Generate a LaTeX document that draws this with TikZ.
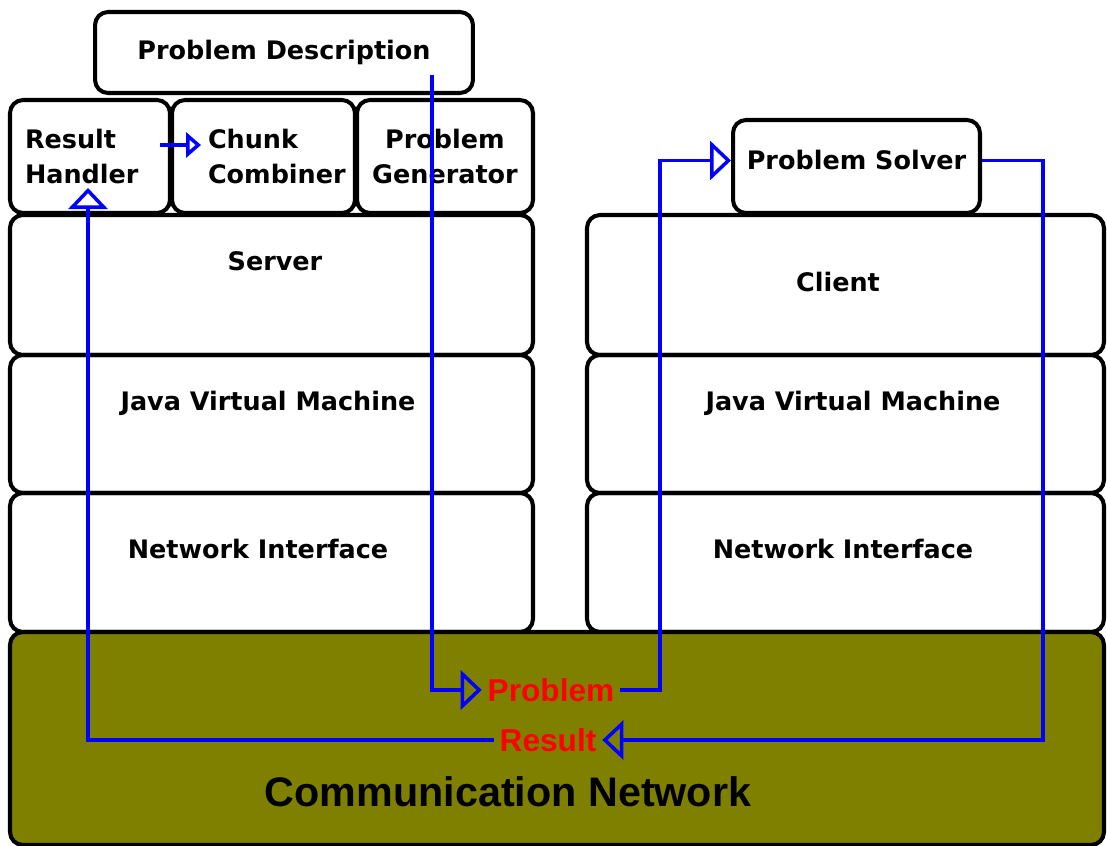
\documentclass[tikz,border=0pt]{standalone}
\usepackage{fontspec}
\setmainfont{DejaVu Sans}
\newfontfamily\arialfont{Liberation Sans}
\usetikzlibrary{calc,arrows.meta}
\definecolor{netolive}{RGB}{128,128,0}

\begin{document}
\begin{tikzpicture}[x=0.02cm,y=-0.02cm,line width=2.3pt,
  layer/.style={draw,rounded corners=0.26cm},
  unit/.style={draw,rounded corners=0.26cm,inner sep=0pt,font=\fontsize{14.5}{20}\selectfont\bfseries},
  txt/.style={font=\fontsize{14.5}{20}\selectfont\bfseries},
  msg/.style={text=red,inner sep=0.08cm,font=\arialfont\fontsize{18}{20}\selectfont\bfseries},
  flow/.style={draw=blue,line width=2pt,-{Triangle[open,length=0.42cm,width=0.78cm]}}]
  \useasboundingbox (0,0) rectangle (1107,846);
  % layer stacks
  \foreach \xa/\xb in {10/533,587/1104} {
    \draw[layer] (\xa,215) rectangle (\xb,355);
    \draw[layer] (\xa,355) rectangle (\xb,493);
    \draw[layer] (\xa,493) rectangle (\xb,632);
  }
  \draw[layer,fill=netolive] (10,632) rectangle (1104,845);
  \node[txt] (server) at (275,261) {Server};
  \node[txt] (jvml) at (268,403) {Java Virtual Machine};
  \node[txt] (nil) at (258,549) {Network Interface};
  \node[txt] (client) at (838,282) {Client};
  \node[txt] (jvmr) at (853,403) {Java Virtual Machine};
  \node[txt] (nir) at (843,549) {Network Interface};
  \node[font=\arialfont\fontsize{23.5}{26}\selectfont\bfseries] (comm) at (508,792) {Communication Network};
  % application parts
  \node[unit,minimum width=7.56cm,minimum height=1.62cm] (pd) at (284,52.5) {Problem Description};
  \node[unit,minimum width=3.2cm,minimum height=2.26cm,align=left,text width=2.6cm] (rh) at (90,156.5) {Result\\Handler};
  \node[unit,minimum width=3.66cm,minimum height=2.26cm,align=left,text width=2.22cm] (cc) at (263.5,156.5) {Chunk\\Combiner};
  \node[unit,minimum width=3.52cm,minimum height=2.26cm,align=center] (pg) at (445,156.5) {Problem\\Generator};
  \node[unit,minimum width=4.94cm,minimum height=1.86cm,text depth=0.28cm] (ps) at (856.5,166.5) {Problem Solver};
  % messages
  \node[msg] (prob) at (551,690) {Problem};
  \node[msg] (res) at (548,740) {Result};
  \coordinate (pdout) at (432,75);
  \coordinate (upjog) at (660,400);
  \coordinate (dnjog) at (1043,400);
  \coordinate (rhin) at (88,188);
  \coordinate (rhout) at (160,145);
  \coordinate (ccin) at (201,145);
  \draw[flow] (pdout) |- (prob.west);
  \draw[flow] (prob.east) -| (upjog) |- ($(ps.west)+(0,-6)$);
  \draw[flow] ($(ps.east)+(0,-6)$) -| (dnjog) |- (res.east);
  \draw[flow] (res.west) -| (rhin);
  \draw[flow,-{Triangle[open,length=0.3cm,width=0.5cm]}] (rhout) -- (ccin);
\end{tikzpicture}
\end{document}
